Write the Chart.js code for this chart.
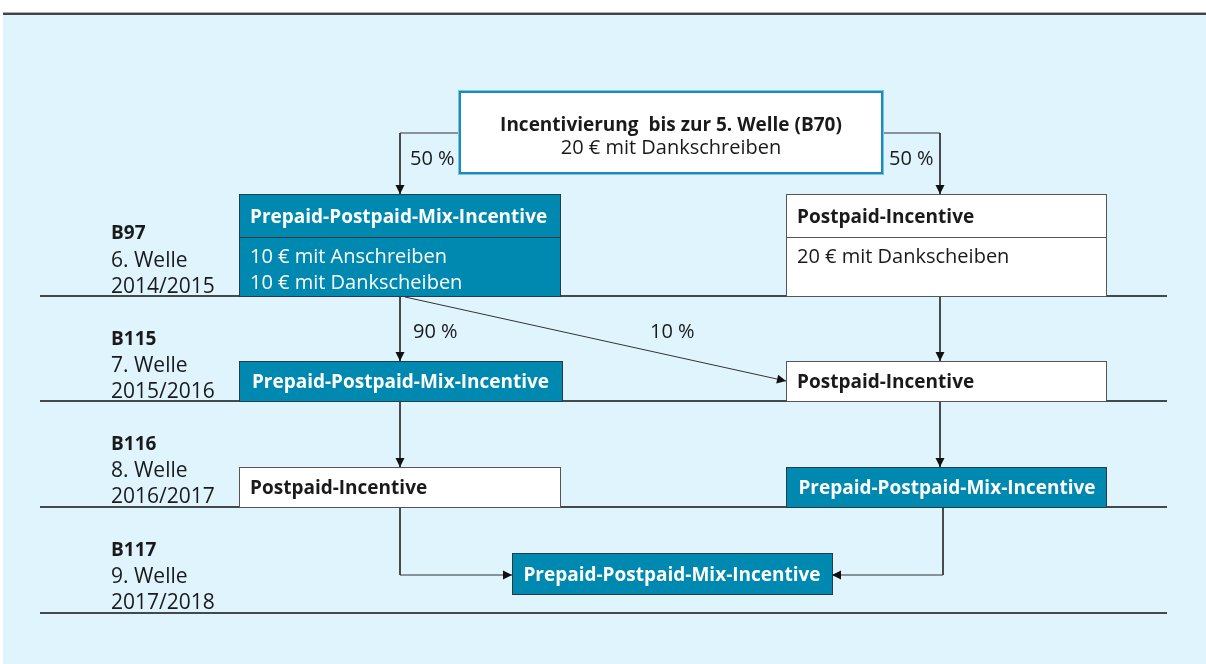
<!DOCTYPE html>
<html>
<head>
<meta charset="utf-8">
<script src="https://cdn.jsdelivr.net/npm/chart.js@4.4.1/dist/chart.umd.min.js"></script>
<style>
html,body{margin:0;padding:0;background:#fff;}
#wrap{width:1206px;height:664px;}
canvas{display:block;}
</style>
</head>
<body>
<div id="wrap"><canvas id="c" width="1206" height="664"></canvas></div>
<script>
// ---------- data (texts of the diagram) ----------
const waveIds     = ['B97', 'B115', 'B116', 'B117'];
const waveNumbers = ['6. Welle', '7. Welle', '8. Welle', '9. Welle'];
const waveYears   = ['2014/2015', '2015/2016', '2016/2017', '2017/2018'];
const startTitle  = 'Incentivierung  bis zur 5. Welle (B70)';
const startDetail = '20 € mit Dankschreiben';
const leftPath    = ['Prepaid-Postpaid-Mix-Incentive', 'Prepaid-Postpaid-Mix-Incentive', 'Postpaid-Incentive'];
const rightPath   = ['Postpaid-Incentive', 'Postpaid-Incentive', 'Prepaid-Postpaid-Mix-Incentive'];
const finalStep   = 'Prepaid-Postpaid-Mix-Incentive';
const leftDetails  = ['10 € mit Anschreiben', '10 € mit Dankscheiben'];
const rightDetails = ['20 € mit Dankscheiben'];
const splitShares      = ['50 %', '50 %'];
const transitionShares = ['90 %', '10 %'];

// ---------- layout (positions in scale units) ----------
const L = {
  sepY: [296, 401, 507, 613], sepX: [40, 1167],
  colL: [239, 560], colR: [786, 1106], colLx: 400, colRx: 940,
  start: {x1: 460, y1: 92, x2: 882, y2: 173, ty: 124, sy: 146, ay: 133},
  row1: {y1: 194, y2: 296, div: 237, hy: 216, d: [255, 281]},
  rows: [{y1: 361, y2: 401}, {y1: 467, y2: 507}],
  fin: {x1: 512, y1: 553, x2: 832, y2: 594, ay: 575},
  labelX: 111, labelY: [[232,259,285],[338,364,390],[443,469,495],[549,575,601]],
  diag: {x1: 405, y1: 297, x2: 786, y2: 381}
};
const C = {bg:'#dff4fd', teal:'#0089b0', tealBorder:'#1a8cba', dark:'#1a1a1a', boxLine:'#555', line:'#333'};
const FONT = '"Open Sans", "Noto Sans", sans-serif';
const SIZE_BOLD = 19, SIZE_REG = 20, SIZE_LABEL = 21, TEXT_DY = 2;

const isTeal = t => t.startsWith('Prepaid');

// connector lines as datasets
function seg(pts){ return {type:'line', data: pts.map(p=>({x:p[0],y:p[1]})), borderColor:C.line, borderWidth:1, pointRadius:0, fill:false, tension:0, showLine:true, clip:false}; }
const arrows = []; // [x,y,dx,dy]
const datasets = [];
// separators
L.sepY.forEach(y => datasets.push(Object.assign(seg([[L.sepX[0],y],[L.sepX[1],y]]), {borderColor:'#111', borderWidth:1.3})));
// start splits
datasets.push(seg([[L.start.x1, L.start.ay],[L.colLx, L.start.ay],[L.colLx, L.row1.y1]])); arrows.push([L.colLx, L.row1.y1, 0, 1]);
datasets.push(seg([[L.start.x2, L.start.ay],[L.colRx, L.start.ay],[L.colRx, L.row1.y1]])); arrows.push([L.colRx, L.row1.y1, 0, 1]);
// row1 -> row2
datasets.push(seg([[L.colLx, L.row1.y2],[L.colLx, L.rows[0].y1]])); arrows.push([L.colLx, L.rows[0].y1, 0, 1]);
datasets.push(seg([[L.colRx, L.row1.y2],[L.colRx, L.rows[0].y1]])); arrows.push([L.colRx, L.rows[0].y1, 0, 1]);
datasets.push(seg([[L.diag.x1, L.diag.y1],[L.diag.x2, L.diag.y2]])); arrows.push([L.diag.x2, L.diag.y2, L.diag.x2-L.diag.x1, L.diag.y2-L.diag.y1]);
// row2 -> row3
datasets.push(seg([[L.colLx, L.rows[0].y2],[L.colLx, L.rows[1].y1]])); arrows.push([L.colLx, L.rows[1].y1, 0, 1]);
datasets.push(seg([[L.colRx, L.rows[0].y2],[L.colRx, L.rows[1].y1]])); arrows.push([L.colRx, L.rows[1].y1, 0, 1]);
// row3 -> final
datasets.push(seg([[L.colLx, L.rows[1].y2],[L.colLx, L.fin.ay],[L.fin.x1, L.fin.ay]])); arrows.push([L.fin.x1, L.fin.ay, 1, 0]);
datasets.push(seg([[L.colRx+3, L.rows[1].y2],[L.colRx+3, L.fin.ay],[L.fin.x2, L.fin.ay]])); arrows.push([L.fin.x2, L.fin.ay, -1, 0]);

const diagramPlugin = {
  id: 'diagram',
  beforeDraw(chart){
    const ctx = chart.ctx, xs = chart.scales.x, ys = chart.scales.y;
    const X = v => xs.getPixelForValue(v), Y = v => ys.getPixelForValue(v);
    ctx.save();
    ctx.fillStyle = '#fff'; ctx.fillRect(0,0,chart.width,chart.height);
    ctx.fillStyle = C.bg; ctx.fillRect(X(3), Y(14), X(1206)-X(3), Y(664)-Y(14));
    ctx.fillStyle = '#aaa'; ctx.fillRect(X(3), Y(12), X(1206)-X(3), 1);
    ctx.fillStyle = '#444'; ctx.fillRect(X(3), Y(13), X(1206)-X(3), 2);
    ctx.restore();
  },
  afterDatasetsDraw(chart){
    const ctx = chart.ctx, xs = chart.scales.x, ys = chart.scales.y;
    const X = v => xs.getPixelForValue(v), Y = v => ys.getPixelForValue(v);
    ctx.save();
    function box(x1,y1,x2,y2,teal){
      ctx.fillStyle = teal ? C.teal : '#fff';
      ctx.fillRect(X(x1),Y(y1),X(x2)-X(x1),Y(y2)-Y(y1));
      ctx.strokeStyle = teal ? '#2b3b44' : C.boxLine; ctx.lineWidth = 1;
      ctx.strokeRect(Math.round(X(x1))+0.5,Math.round(Y(y1))+0.5,Math.round(X(x2)-X(x1)),Math.round(Y(y2)-Y(y1)));
    }
    function text(t,x,y,opt){
      const size = opt.size || (opt.bold ? SIZE_BOLD : SIZE_REG);
      ctx.font = (opt.bold?'bold ':'') + size + 'px ' + FONT;
      ctx.fillStyle = opt.color || C.dark;
      ctx.textAlign = opt.align || 'left'; ctx.textBaseline = 'middle';
      ctx.fillText(t, X(x), Y(y + TEXT_DY));
    }
    // start box
    const s = L.start;
    ctx.fillStyle = '#fff'; ctx.fillRect(X(s.x1),Y(s.y1),X(s.x2)-X(s.x1),Y(s.y2)-Y(s.y1));
    ctx.strokeStyle = '#7cc3dc'; ctx.lineWidth = 1; ctx.strokeRect(X(s.x1)-1.5,Y(s.y1)-1.5,X(s.x2)-X(s.x1)+3,Y(s.y2)-Y(s.y1)+3);
    ctx.strokeStyle = C.tealBorder; ctx.lineWidth = 2; ctx.strokeRect(X(s.x1),Y(s.y1),X(s.x2)-X(s.x1),Y(s.y2)-Y(s.y1));
    text(startTitle, (s.x1+s.x2)/2, s.ty, {bold:true, align:'center'});
    text(startDetail, (s.x1+s.x2)/2, s.sy, {align:'center'});
    // row 1 boxes with header
    const r1 = L.row1;
    [[L.colL, leftPath[0], leftDetails],[L.colR, rightPath[0], rightDetails]].forEach(([col, title, det]) => {
      const teal = isTeal(title);
      box(col[0], r1.y1, col[1], r1.y2, teal);
      ctx.strokeStyle = teal ? '#1f3540' : C.boxLine; ctx.lineWidth = 1.2;
      ctx.beginPath(); ctx.moveTo(X(col[0]), Math.round(Y(r1.div))+0.5); ctx.lineTo(X(col[1]), Math.round(Y(r1.div))+0.5); ctx.stroke();
      text(title, col[0]+11, r1.hy, {bold:true, color: teal?'#fff':C.dark});
      det.forEach((d,i)=> text(d, col[0]+11, r1.d[i], {color: teal?'#fff':C.dark}));
    });
    // rows 2-3
    L.rows.forEach((r, i) => {
      [[L.colL, leftPath[i+1]],[L.colR, rightPath[i+1]]].forEach(([col, title]) => {
        const teal = isTeal(title);
        box(col[0], r.y1, col[1] + (teal && col===L.colL ? 2 : 0), r.y2, teal);
        const cy = (r.y1 + r.y2)/2;
        if (teal) text(title, (col[0]+col[1])/2 + 1, cy, {bold:true, color:'#fff', align:'center'});
        else text(title, col[0]+11, cy, {bold:true});
      });
    });
    // final
    const f = L.fin;
    box(f.x1, f.y1, f.x2, f.y2, true);
    text(finalStep, (f.x1+f.x2)/2, (f.y1+f.y2)/2, {bold:true, color:'#fff', align:'center'});
    // arrows
    ctx.fillStyle = '#111';
    arrows.forEach(([ax, ay, dx, dy]) => {
      const len = Math.hypot(dx, dy), ux = dx/len, uy = dy/len, px = -uy, py = ux;
      const tx = X(ax), ty = Y(ay), hl = 9, hw = 4.5;
      ctx.beginPath(); ctx.moveTo(tx, ty);
      ctx.lineTo(tx - ux*hl + px*hw, ty - uy*hl + py*hw);
      ctx.lineTo(tx - ux*hl - px*hw, ty - uy*hl - py*hw);
      ctx.closePath(); ctx.fill();
    });
    // share labels
    text(splitShares[0], 410, 157, {});
    text(splitShares[1], 889, 157, {});
    text(transitionShares[0], 413, 330, {});
    text(transitionShares[1], 650, 330, {});
    // wave labels
    waveIds.forEach((w, i) => {
      text(w, L.labelX, L.labelY[i][0], {bold:true, size:SIZE_BOLD});
      text(waveNumbers[i], L.labelX, L.labelY[i][1], {size:SIZE_LABEL});
      text(waveYears[i], L.labelX, L.labelY[i][2], {size:SIZE_LABEL});
    });
    ctx.restore();
  }
};

new Chart(document.getElementById('c'), {
  type: 'scatter',
  data: { datasets },
  options: {
    responsive: false, animation: false, devicePixelRatio: 1,
    layout: { padding: 0 },
    plugins: { legend: {display:false}, tooltip: {enabled:false} },
    scales: {
      x: { type:'linear', min:0, max:1206, display:false },
      y: { type:'linear', min:0, max:664, reverse:true, display:false }
    }
  },
  plugins: [diagramPlugin]
});
</script>
</body>
</html>
